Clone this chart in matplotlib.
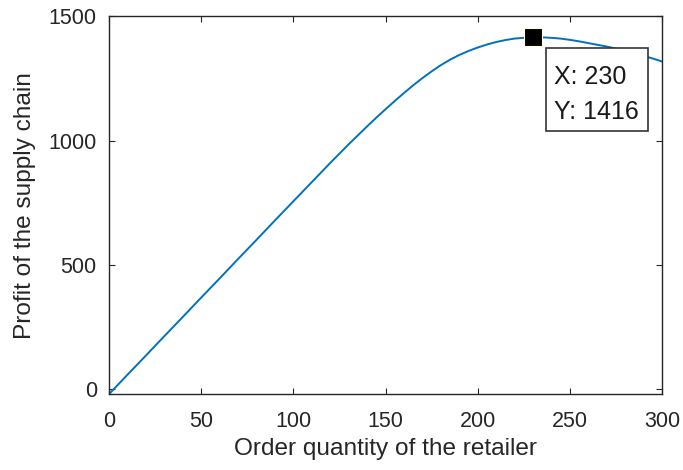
import numpy as np
import matplotlib
matplotlib.use('Agg')
import matplotlib.pyplot as plt
from matplotlib.patches import Rectangle
from matplotlib.transforms import IdentityTransform

# values
order_qty = [0, 10, 20, 30, 40, 50, 60, 70, 80, 90, 100, 110, 120, 130, 140,
             145, 150, 155, 160, 165, 170, 175, 180, 185, 190, 195, 200, 205, 210, 215,
             220, 225, 230, 235, 240, 245, 250, 255, 260, 265, 270, 275, 280, 285, 290,
             295, 300]
profit = [-18, 60, 137, 215, 292, 370, 447, 525, 602, 680, 757, 834, 911, 986, 1058,
          1093, 1127, 1160, 1192, 1223, 1252, 1279, 1304, 1326, 1345, 1361, 1375, 1387, 1397, 1405,
          1411, 1414, 1416, 1416, 1414, 1411, 1406, 1400, 1393, 1386, 1379, 1371, 1362, 1352, 1342,
          1331, 1319]
peak_x, peak_y = 230, 1416
xticks = [0, 50, 100, 150, 200, 250, 300]
yticks = [0, 500, 1000, 1500]

plt.rcParams['font.family'] = ['Liberation Sans', 'DejaVu Sans']
txt = '#262626'

fig = plt.figure(figsize=(6.83, 4.70), dpi=100)
ax = fig.add_axes([0.160, 0.162, 0.809, 0.803])

ax.plot(order_qty, profit, color='#0072BD', lw=1.4, zorder=2)
ax.plot([peak_x], [peak_y], marker='s', ms=12.5, mfc='black', mec='#FFFFE0', mew=0.8,
        ls='none', zorder=4)

ax.set_xlim(0, 300)
ax.set_ylim(-18, 1500)
ax.set_xticks(xticks)
ax.set_yticks(yticks)
ax.tick_params(direction='in', length=4, width=0.8, top=True, right=True,
               labelsize=15.5, colors=txt, labelcolor=txt)
ax.tick_params(axis='x', pad=12)
ax.tick_params(axis='y', pad=9)
for s in ax.spines.values():
    s.set_color('#262626')
    s.set_linewidth(1.0)

ax.set_xlabel('Order quantity of the retailer', fontsize=17.6, color=txt, labelpad=5)
ax.set_ylabel('Profit of the supply chain', fontsize=17.6, color=txt, labelpad=9)

# data tip box, placed in pixels relative to the marker
mx, my = ax.transData.transform((peak_x, peak_y))
box = Rectangle((mx + 13, my - 93.5), 102, 83, transform=IdentityTransform(),
                fc='white', ec='#333333', lw=1.2, zorder=5, clip_on=False)
ax.add_patch(box)
for i, s in enumerate(['X: %d' % peak_x, 'Y: %d' % peak_y]):
    ax.annotate(s, xy=(peak_x, peak_y), xytext=(15.1, -33.6 - 25.2 * i),
                textcoords='offset points', ha='left', va='baseline',
                fontsize=18, color='#1a1a1a', zorder=6)

fig.savefig('out.png', dpi=100)
